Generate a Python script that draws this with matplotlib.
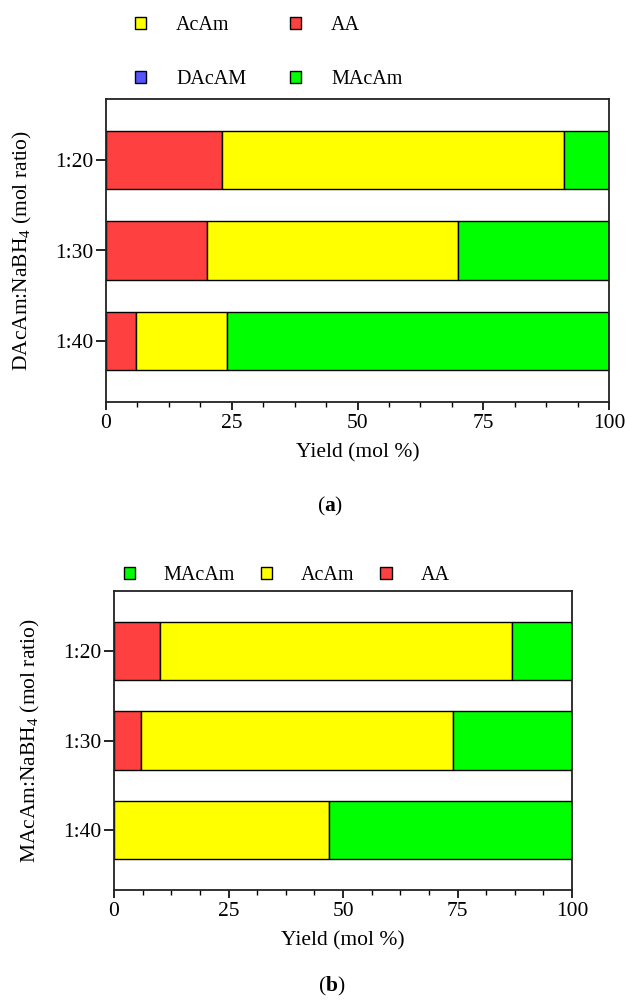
import numpy as np
import matplotlib
matplotlib.use('Agg')
import matplotlib.pyplot as plt
from matplotlib.patches import Patch
from matplotlib.ticker import MultipleLocator

plt.rcParams['font.family'] = ['Liberation Serif', 'DejaVu Serif']
plt.rcParams['mathtext.fontset'] = 'custom'
plt.rcParams['mathtext.rm'] = 'Liberation Serif'
plt.rcParams['mathtext.it'] = 'Liberation Serif:italic'
plt.rcParams['mathtext.bf'] = 'Liberation Serif:bold'

# ratios and product yields (mol %)
ratios = ['1:20', '1:30', '1:40']

# (a) DAcAm reduction
aa_a = [23, 20, 6]
acam_a = [68, 50, 18]
macam_a = [9, 30, 76]
dacam_a = [0, 0, 0]

# (b) MAcAm reduction
aa_b = [10, 6, 0]
acam_b = [77, 68, 47]
macam_b = [13, 26, 53]

c_red = '#FF4040'
c_yel = '#FFFF00'
c_grn = '#00FF00'
c_blu = '#5555FF'
fs = 15.5
fs_leg = 14.5

fig = plt.figure(figsize=(6.25, 10), dpi=100)
ax1 = fig.add_axes([0.1696, 0.598, 0.8048, 0.303])
ax2 = fig.add_axes([0.1824, 0.110, 0.7328, 0.299])

y = np.arange(len(ratios))
h = 0.65


def stack(ax, series, colors):
    left = np.zeros(len(ratios))
    for vals, col in zip(series, colors):
        vals = np.array(vals, dtype=float)
        ax.barh(y, vals, left=left, height=h, color=col,
                edgecolor='black', linewidth=1.0, zorder=2)
        left = left + vals


stack(ax1, [aa_a, acam_a, macam_a, dacam_a], [c_red, c_yel, c_grn, c_blu])
stack(ax2, [aa_b, acam_b, macam_b], [c_red, c_yel, c_grn])

for ax in (ax1, ax2):
    ax.set_xlim(0, 100)
    ax.set_ylim(2.675, -0.675)
    ax.set_yticks(y)
    ax.set_yticklabels(ratios, fontsize=fs)
    ax.xaxis.set_major_locator(MultipleLocator(25))
    ax.xaxis.set_minor_locator(MultipleLocator(6.25))
    ax.tick_params(axis='x', which='major', direction='out', length=6,
                   width=1.2, labelsize=fs, pad=3)
    ax.tick_params(axis='x', which='minor', direction='out', length=3.5,
                   width=1.0)
    ax.tick_params(axis='y', direction='out', length=7, width=1.2, pad=2)
    for sp in ax.spines.values():
        sp.set_linewidth(1.3)
        sp.set_color('#222222')
    ax.set_xlabel('Yield (mol %)', fontsize=fs, labelpad=7)

ax1.set_ylabel('DAcAm:NaBH$_4$ (mol ratio)', fontsize=fs, labelpad=15)
ax2.set_ylabel('MAcAm:NaBH$_4$ (mol ratio)', fontsize=fs, labelpad=15)

# legends
msq = dict(edgecolor='black', linewidth=1.0)
h_a = [Patch(facecolor=c_yel, label='AcAm', **msq),
       Patch(facecolor=c_blu, label='DAcAM', **msq),
       Patch(facecolor=c_red, label='AA', **msq),
       Patch(facecolor=c_grn, label='MAcAm', **msq)]
fig.legend(handles=h_a, ncol=2, loc='upper left',
           bbox_to_anchor=(0.216, 0.984), frameon=False, fontsize=fs_leg,
           handlelength=0.55, handleheight=0.55, handletextpad=1.5,
           columnspacing=2.15, labelspacing=1.75, borderpad=0,
           borderaxespad=0)

h_b = [Patch(facecolor=c_grn, label='MAcAm', **msq),
       Patch(facecolor=c_yel, label='AcAm', **msq),
       Patch(facecolor=c_red, label='AA', **msq)]
fig.legend(handles=h_b, ncol=3, loc='upper left',
           bbox_to_anchor=(0.1976, 0.434), frameon=False, fontsize=fs_leg,
           handlelength=0.55, handleheight=0.55, handletextpad=1.43,
           columnspacing=1.3, borderpad=0, borderaxespad=0)

fig.text(0.528, 0.494, r'($\mathbf{a}$)', ha='center', va='center', fontsize=fs)
fig.text(0.530, 0.014, r'($\mathbf{b}$)', ha='center', va='center', fontsize=fs)

fig.savefig('out.png', dpi=100)
